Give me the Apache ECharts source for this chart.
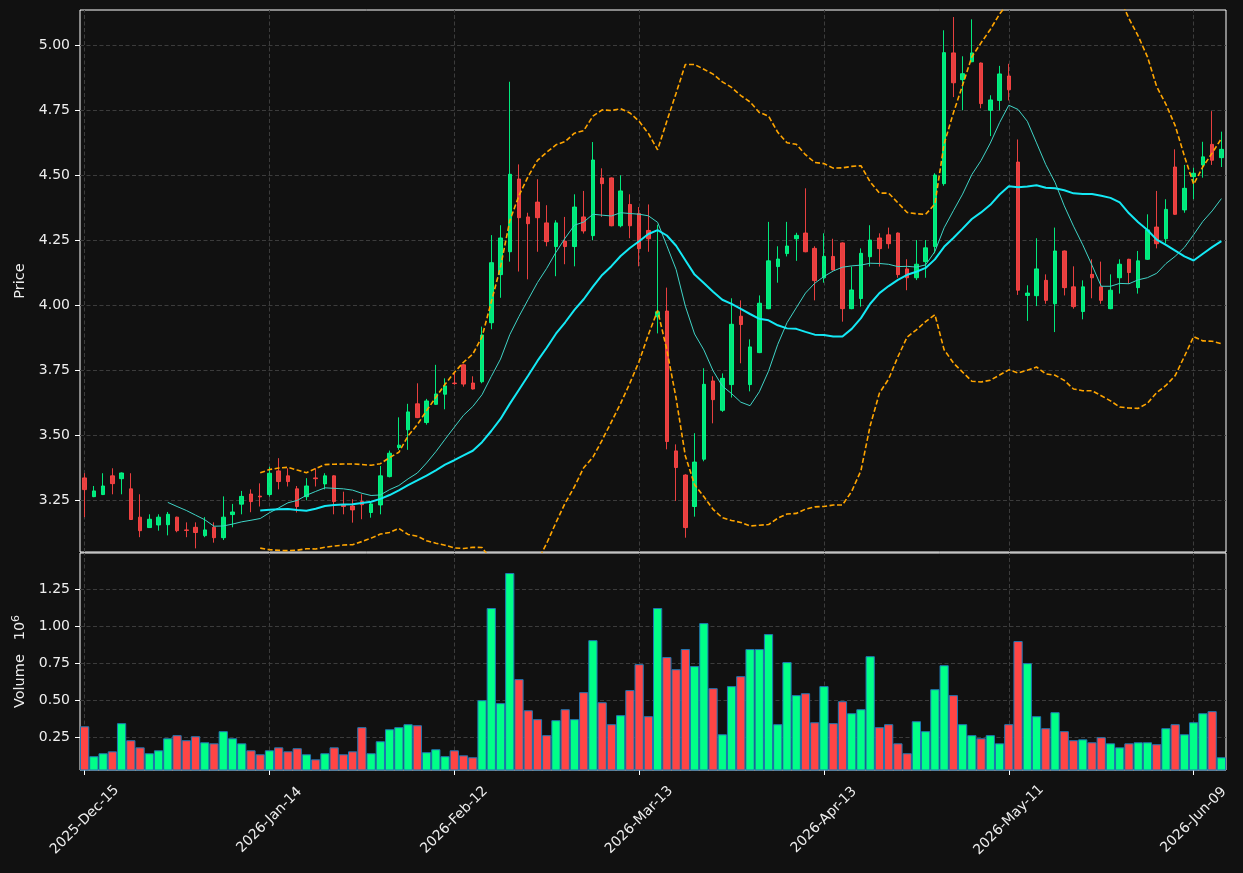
<!DOCTYPE html>
<html><head><meta charset="utf-8">
<script src="https://cdn.jsdelivr.net/npm/echarts@6/dist/echarts.min.js"></script>
<style>html,body{margin:0;padding:0;background:#111111;}#c{width:1243px;height:873px;}</style>
</head><body><div id="c"></div>
<script>
// ---- data ----
const tickLabels = ['2025-Dec-15','2026-Jan-14','2026-Feb-12','2026-Mar-13','2026-Apr-13','2026-May-11','2026-Jun-09'];
const holidays = ['2025-12-25','2026-01-01','2026-01-19','2026-02-16','2026-04-03','2026-05-25'];
const priceTicks = [3.25,3.5,3.75,4.0,4.25,4.5,4.75,5.0];
const volumeTicks = [0.25,0.5,0.75,1.0,1.25];

const opens = [3.336,3.264,3.272,3.344,3.333,3.294,3.185,3.145,3.155,3.156,
3.185,3.136,3.146,3.114,3.146,3.106,3.195,3.235,3.274,3.266,
3.272,3.363,3.344,3.294,3.264,3.336,3.313,3.344,3.232,3.228,
3.245,3.203,3.232,3.341,3.453,3.521,3.621,3.549,3.619,3.658,
3.701,3.771,3.701,3.706,3.933,4.118,4.206,4.486,4.340,4.397,
4.317,4.226,4.247,4.226,4.340,4.268,4.490,4.490,4.306,4.388,
4.353,4.288,3.956,3.978,3.440,3.347,3.226,3.408,3.709,3.596,
3.695,3.958,3.695,3.818,3.987,4.149,4.199,4.256,4.278,4.219,
4.106,4.188,4.240,3.987,4.026,4.187,4.259,4.271,4.278,4.140,
4.106,4.168,4.226,4.468,4.971,4.868,4.937,4.932,4.750,4.788,
4.882,4.551,4.038,4.037,4.096,4.006,4.209,4.071,3.976,4.119,
4.071,3.987,4.106,4.177,4.068,4.177,4.301,4.256,4.532,4.367,
4.495,4.540,4.619,4.568];
const closes = [3.291,3.286,3.305,3.314,3.355,3.176,3.133,3.177,3.185,3.196,
3.133,3.134,3.126,3.136,3.106,3.185,3.205,3.265,3.245,3.263,
3.354,3.322,3.322,3.226,3.305,3.333,3.344,3.245,3.226,3.213,
3.233,3.236,3.344,3.431,3.462,3.590,3.568,3.632,3.659,3.690,
3.699,3.697,3.678,3.886,4.164,4.259,4.504,4.337,4.314,4.337,
4.245,4.317,4.226,4.378,4.286,4.559,4.468,4.306,4.440,4.306,
4.218,4.256,3.975,3.476,3.376,3.145,3.397,3.696,3.637,3.719,
3.927,3.926,3.840,4.008,4.171,4.178,4.228,4.269,4.206,4.095,
4.188,4.136,3.987,4.059,4.200,4.251,4.218,4.237,4.118,4.106,
4.158,4.221,4.501,4.972,4.856,4.891,4.971,4.776,4.790,4.890,
4.829,4.058,4.047,4.140,4.019,4.209,4.068,3.995,4.071,4.106,
4.019,4.058,4.158,4.126,4.171,4.290,4.237,4.369,4.350,4.450,
4.508,4.571,4.558,4.600];
const lows = [3.185,3.262,3.270,3.273,3.273,3.175,3.108,3.145,3.133,3.115,
3.127,3.108,3.065,3.108,3.087,3.097,3.146,3.196,3.204,3.226,
3.264,3.292,3.303,3.203,3.250,3.303,3.292,3.196,3.196,3.164,
3.177,3.183,3.196,3.338,3.444,3.444,3.566,3.541,3.617,3.600,
3.694,3.687,3.676,3.700,3.908,4.029,4.168,4.130,4.100,4.206,
4.227,4.112,4.158,4.150,4.276,4.250,4.340,4.304,4.300,4.258,
4.150,4.206,3.892,3.446,3.247,3.106,3.187,3.400,3.546,3.590,
3.645,3.777,3.669,3.816,3.985,4.087,4.188,4.171,4.204,4.019,
4.087,4.134,3.937,3.985,3.995,4.149,4.149,4.218,4.106,4.058,
4.097,4.106,4.200,4.460,4.801,4.750,4.935,4.758,4.651,4.750,
4.788,4.040,3.940,3.997,4.006,3.897,4.038,3.987,3.946,4.027,
4.006,3.985,4.045,4.083,4.045,4.175,4.219,4.238,4.348,4.356,
4.408,4.491,4.540,4.532];
const highs = [3.354,3.305,3.354,3.373,3.357,3.354,3.273,3.196,3.196,3.205,
3.187,3.165,3.165,3.185,3.165,3.265,3.236,3.286,3.292,3.315,
3.379,3.412,3.373,3.305,3.335,3.373,3.354,3.346,3.283,3.254,
3.273,3.245,3.382,3.441,3.569,3.621,3.700,3.640,3.771,3.719,
3.741,3.773,3.727,3.918,4.270,4.308,4.860,4.542,4.356,4.485,
4.385,4.327,4.340,4.427,4.440,4.628,4.527,4.492,4.500,4.427,
4.378,4.388,4.310,4.068,3.465,3.350,3.508,3.758,3.727,3.738,
4.027,4.019,3.869,4.038,4.321,4.227,4.321,4.279,4.450,4.227,
4.277,4.256,4.242,4.149,4.219,4.308,4.277,4.299,4.280,4.177,
4.251,4.251,4.508,5.058,5.109,4.958,5.100,4.934,4.808,4.921,
4.929,4.638,4.077,4.258,4.119,4.299,4.211,4.150,4.096,4.177,
4.168,4.119,4.177,4.179,4.209,4.350,4.440,4.408,4.600,4.540,
4.529,4.629,4.747,4.668];
// volume in units of 10^6
const volumes = [0.324,0.122,0.142,0.155,0.345,0.230,0.182,0.142,0.162,0.243,
0.264,0.230,0.257,0.216,0.209,0.291,0.243,0.209,0.162,0.135,
0.162,0.182,0.155,0.176,0.135,0.101,0.142,0.182,0.135,0.155,
0.318,0.142,0.223,0.304,0.318,0.338,0.331,0.149,0.169,0.122,
0.162,0.128,0.115,0.500,1.122,0.480,1.358,0.642,0.432,0.372,
0.264,0.365,0.439,0.372,0.554,0.905,0.486,0.338,0.399,0.568,
0.743,0.392,1.122,0.791,0.709,0.845,0.730,1.020,0.581,0.270,
0.595,0.662,0.845,0.845,0.946,0.338,0.757,0.534,0.547,0.351,
0.595,0.345,0.493,0.412,0.439,0.797,0.318,0.338,0.209,0.142,
0.358,0.291,0.574,0.736,0.534,0.338,0.264,0.243,0.264,0.209,
0.338,0.899,0.750,0.392,0.311,0.419,0.291,0.230,0.236,0.216,
0.250,0.209,0.182,0.209,0.216,0.216,0.203,0.311,0.338,0.270,
0.351,0.412,0.426,0.115];

// ---- trading-day categories ----
const MON = ['Jan','Feb','Mar','Apr','May','Jun','Jul','Aug','Sep','Oct','Nov','Dec'];
const dates = [];
(function(){
  let d = new Date(Date.UTC(2025,11,15));
  while (dates.length < opens.length) {
    const iso = d.toISOString().slice(0,10);
    const wd = d.getUTCDay();
    if (wd !== 0 && wd !== 6 && holidays.indexOf(iso) < 0) {
      dates.push(d.getUTCFullYear() + '-' + MON[d.getUTCMonth()] + '-' + String(d.getUTCDate()).padStart(2,'0'));
    }
    d = new Date(d.getTime() + 86400000);
  }
})();
const TICK_STEP = 20;
const tickIdx = tickLabels.map((_, k) => k * TICK_STEP);

// ---- indicators from closes ----
function sma(arr, n) {
  return arr.map((_, i) => {
    if (i < n - 1) return '-';
    let s = 0; for (let j = i - n + 1; j <= i; j++) s += arr[j];
    return s / n;
  });
}
function bollinger(arr, n, k, sign) {
  return arr.map((_, i) => {
    if (i < n - 1) return '-';
    let s = 0; for (let j = i - n + 1; j <= i; j++) s += arr[j];
    const m = s / n;
    let v = 0; for (let j = i - n + 1; j <= i; j++) v += (arr[j] - m) * (arr[j] - m);
    return m + sign * k * Math.sqrt(v / n);
  });
}
const ma10 = sma(closes, 10);
const ma20 = sma(closes, 20);
const bbUp = bollinger(closes, 20, 2, 1);
const bbLo = bollinger(closes, 20, 2, -1);

const UP = '#00ff88', DOWN = '#ff4545';
const TXT = '#eeeeee';
const FONT = 'DejaVu Sans';
const GRIDLINE = {color: '#3c3c3c', type: [4, 2.5], width: 1};

const chart = echarts.init(document.getElementById('c'), null, {renderer: 'canvas'});
const isTick = (idx) => idx % TICK_STEP === 0;

const option = {
  backgroundColor: '#111111',
  animation: false,
  grid: [
    {left: 80, top: 10, width: 1146, height: 542, show: true, borderColor: '#ffffff', borderWidth: 1, backgroundColor: 'transparent'},
    {left: 80, top: 553, width: 1146, height: 217, show: true, borderColor: '#ffffff', borderWidth: 1, backgroundColor: 'transparent'}
  ],
  xAxis: [
    {type: 'category', gridIndex: 0, data: dates, boundaryGap: true,
     axisLine: {show: false}, axisTick: {show: false}, axisLabel: {show: false}, splitLine: {show: false}},
    {type: 'category', gridIndex: 1, data: dates, boundaryGap: true,
     axisLine: {show: false},
     axisTick: {show: true, alignWithLabel: true, interval: (i) => isTick(i), length: 5, lineStyle: {color: '#ffffff', width: 1}},
     axisLabel: {show: true, interval: (i) => isTick(i), rotate: 45, align: 'center', verticalAlign: 'middle', margin: 50,
       color: TXT, fontSize: 14, fontFamily: FONT,
       formatter: (v, i) => tickLabels[i / TICK_STEP] || v},
     splitLine: {show: false}}
  ],
  yAxis: [
    {type: 'value', gridIndex: 0, min: 3.051, max: 5.136, scale: true,
     axisLine: {show: false},
     axisTick: {show: true, customValues: priceTicks, length: 5, lineStyle: {color: '#ffffff'}},
     axisLabel: {customValues: priceTicks, formatter: (v) => v.toFixed(2), color: TXT, fontSize: 14, fontFamily: FONT, margin: 10},
     splitLine: {show: false},
     name: 'Price', nameLocation: 'middle', nameRotate: 90, nameGap: 50,
     nameTextStyle: {color: TXT, fontSize: 14.5, fontFamily: FONT}},
    {type: 'value', gridIndex: 1, min: 0.029, max: 1.493,
     axisLine: {show: false},
     axisTick: {show: true, customValues: volumeTicks, length: 5, lineStyle: {color: '#ffffff'}},
     axisLabel: {customValues: volumeTicks, formatter: (v) => v.toFixed(2), color: TXT, fontSize: 14, fontFamily: FONT, margin: 10},
     splitLine: {show: false},
     name: 'Volume   10{sup|6}', nameLocation: 'middle', nameRotate: 90, nameGap: 50,
     nameTextStyle: {color: TXT, fontSize: 14.5, fontFamily: FONT,
       rich: {sup: {fontSize: 11, color: TXT, fontFamily: FONT, padding: [0, 0, 8, 0]}}}}
  ],
  series: [
    {type: 'line', xAxisIndex: 0, yAxisIndex: 0, data: [], z: 1, silent: true,
     markLine: {z: 1, silent: true, symbol: ['none', 'none'], label: {show: false}, lineStyle: GRIDLINE, animation: false,
       data: priceTicks.map(v => ({yAxis: v})).concat(tickIdx.map(i => ({xAxis: i})))}},
    {type: 'line', xAxisIndex: 1, yAxisIndex: 1, data: [], z: 1, silent: true,
     markLine: {z: 1, silent: true, symbol: ['none', 'none'], label: {show: false}, lineStyle: GRIDLINE, animation: false,
       data: volumeTicks.map(v => ({yAxis: v})).concat(tickIdx.map(i => ({xAxis: i})))}},
    {type: 'candlestick', name: 'OHLC', xAxisIndex: 0, yAxisIndex: 0, z: 3, barWidth: 4,
     data: opens.map((o, i) => [o, closes[i], lows[i], highs[i]]),
     itemStyle: {color: UP, color0: DOWN, borderColor: UP, borderColor0: DOWN, borderWidth: 1, opacity: 0.9}},
    {type: 'line', name: 'MA10', xAxisIndex: 0, yAxisIndex: 0, data: ma10, z: 4, showSymbol: false, symbol: 'none',
     lineStyle: {color: '#3fd3c6', width: 1}},
    {type: 'line', name: 'MA20', xAxisIndex: 0, yAxisIndex: 0, data: ma20, z: 4, showSymbol: false, symbol: 'none',
     lineStyle: {color: '#14e9f5', width: 2}},
    {type: 'line', name: 'BB upper', xAxisIndex: 0, yAxisIndex: 0, data: bbUp, z: 4, showSymbol: false, symbol: 'none',
     lineStyle: {color: '#ffa500', width: 1.6, type: [5, 2.5]}},
    {type: 'line', name: 'BB lower', xAxisIndex: 0, yAxisIndex: 0, data: bbLo, z: 4, showSymbol: false, symbol: 'none',
     lineStyle: {color: '#ffa500', width: 1.6, type: [5, 2.5]}},
    {type: 'bar', name: 'Volume', xAxisIndex: 1, yAxisIndex: 1, z: 3, barCategoryGap: '0%',
     data: volumes.map((v, i) => ({value: v, itemStyle: {color: closes[i] >= opens[i] ? UP : DOWN}})),
     itemStyle: {borderColor: '#1f77b4', borderWidth: 1}}
  ]
};
chart.setOption(option);
</script>
</body></html>
